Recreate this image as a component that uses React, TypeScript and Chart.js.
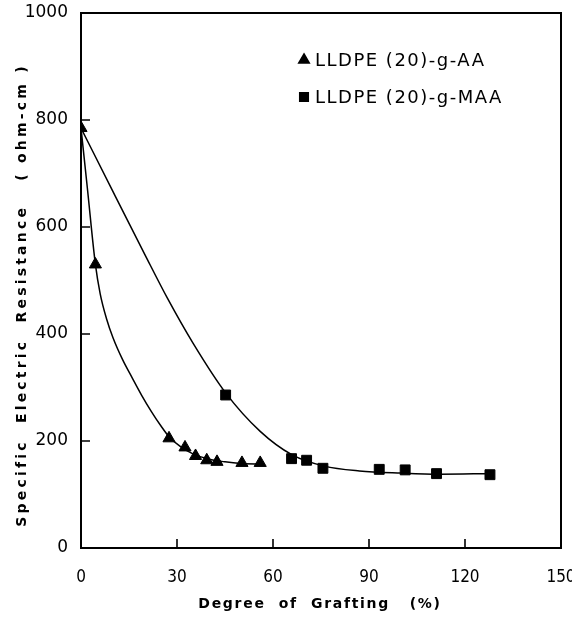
import React, { useEffect, useRef } from "react";
import { Chart, registerables } from "chart.js";
import { drawPoint } from "chart.js/helpers";

Chart.register(...registerables);

// Markers
const aaX = [0, 4.5, 27.5, 32.5, 35.8, 39.3, 42.5, 50.3, 56];
const aaY = [785, 530, 205, 188, 172, 164, 161, 159, 159];
const maaX = [45.2, 65.8, 70.5, 75.6, 93.2, 101.3, 111.1, 127.8];
const maaY = [286, 167, 164, 149, 147, 146, 139, 137];

// Hand-drawn fitted curves
const aaCurveX = [0, 2, 4.5, 6, 8, 10, 13, 16, 19, 22, 25, 27.5, 31, 35, 40, 45, 50, 57];
const aaCurveY = [785, 672, 530, 475, 428, 393, 352, 318, 285, 255, 228, 208, 190, 176, 166, 161, 158, 157];
const maaCurveX = [0, 10, 20, 27, 35, 45.2, 56, 66, 76, 87, 100, 112, 128];
const maaCurveY = [785, 666, 548, 467, 383, 290, 218, 174, 153, 144, 140, 138, 139];

const xTicks = [0, 30, 60, 90, 120, 150];
const yTicks = [0, 200, 400, 600, 800, 1000];

const legendLabels = ["LLDPE (20)-g-AA", "LLDPE (20)-g-MAA"];
const xTitle = "Degree  of  Grafting   (%)";
const yTitle = "Specific  Electric  Resistance   ( ohm-cm )";

const FONT = "'DejaVu Sans', sans-serif";
const FONT_C = "'DejaVu Sans Condensed', 'DejaVu Sans', sans-serif";

const pts = (xs: number[], ys: number[]) => xs.map((x, i) => ({ x, y: ys[i] }));

const framePlugin = {
  id: "frame",
  afterDraw(chart: any) {
    const { ctx, chartArea: a, scales } = chart;
    ctx.save();
    ctx.strokeStyle = "#000";
    ctx.lineWidth = 2;
    ctx.strokeRect(a.left, a.top, a.right - a.left, a.bottom - a.top);
    ctx.lineWidth = 1.6;
    ctx.beginPath();
    for (const v of yTicks) {
      const y = scales.y.getPixelForValue(v);
      ctx.moveTo(a.left, y);
      ctx.lineTo(a.left + 9, y);
    }
    for (const v of xTicks) {
      const x = scales.x.getPixelForValue(v);
      ctx.moveTo(x, a.bottom);
      ctx.lineTo(x, a.bottom - 9);
    }
    ctx.stroke();

    // axis titles
    ctx.fillStyle = "#000";
    ctx.font = `bold 14px ${FONT}`;
    (ctx as any).letterSpacing = "1.7px";
    ctx.textAlign = "center";
    ctx.textBaseline = "middle";
    ctx.fillText(xTitle, 320, 604);
    ctx.save();
    ctx.translate(22, 295);
    ctx.rotate(-Math.PI / 2);
    (ctx as any).letterSpacing = "3.2px";
    ctx.fillText(yTitle, 0, 0);
    ctx.restore();

    // legend
    (ctx as any).letterSpacing = "1.5px";
    ctx.font = `18px ${FONT}`;
    ctx.textAlign = "left";
    const styles = ["triangle", "rect"];
    const rows = [60, 97];
    for (let i = 0; i < 2; i++) {
      drawPoint(ctx, { pointStyle: styles[i], radius: 6, borderWidth: 1 } as any, 304, rows[i]);
      ctx.fill();
      ctx.fillText(legendLabels[i], 315, rows[i] + 1);
    }
    ctx.restore();
  },
};

export default function App() {
  const ref = useRef<HTMLCanvasElement>(null);
  useEffect(() => {
    if (!ref.current) return;
    const chart = new Chart(ref.current, {
      type: "scatter",
      data: {
        datasets: [
          {
            type: "line",
            data: pts(aaCurveX, aaCurveY),
            borderColor: "#000",
            borderWidth: 1.5,
            pointRadius: 0,
            cubicInterpolationMode: "monotone",
            showLine: true,
            fill: false,
          } as any,
          {
            type: "line",
            data: pts(maaCurveX, maaCurveY),
            borderColor: "#000",
            borderWidth: 1.5,
            pointRadius: 0,
            cubicInterpolationMode: "monotone",
            showLine: true,
            fill: false,
          } as any,
          {
            label: legendLabels[0],
            data: pts(aaX, aaY),
            pointStyle: "triangle",
            pointRadius: 7,
            backgroundColor: "#000",
            borderColor: "#000",
            borderWidth: 1,
          },
          {
            label: legendLabels[1],
            data: pts(maaX, maaY),
            pointStyle: "rect",
            pointRadius: 7,
            backgroundColor: "#000",
            borderColor: "#000",
            borderWidth: 1,
          },
        ],
      },
      options: {
        animation: false,
        responsive: false,
        devicePixelRatio: 1,
        layout: { padding: { top: 13, right: 11, left: 0, bottom: 0 } },
        plugins: { legend: { display: false }, tooltip: { enabled: false } },
        scales: {
          x: {
            type: "linear",
            min: 0,
            max: 150,
            afterBuildTicks: (s: any) => {
              s.ticks = xTicks.map((v) => ({ value: v }));
            },
            afterFit: (s: any) => {
              s.height = 71;
              s.paddingLeft = 0;
              s.paddingRight = 0;
            },
            grid: { display: false },
            border: { display: false },
            ticks: {
              color: "#000",
              font: { family: FONT_C, size: 17 },
              padding: 11,
              maxRotation: 0,
              callback: (v: any) => String(v),
            },
          },
          y: {
            type: "linear",
            min: 0,
            max: 1000,
            afterBuildTicks: (s: any) => {
              s.ticks = yTicks.map((v) => ({ value: v }));
            },
            afterFit: (s: any) => {
              s.width = 81;
              s.paddingTop = 0;
              s.paddingBottom = 0;
            },
            grid: { display: false },
            border: { display: false },
            ticks: {
              color: "#000",
              font: { family: FONT, size: 17 },
              padding: 5,
              callback: (v: any) => String(v),
            },
          },
        },
      },
      plugins: [framePlugin],
    });
    return () => chart.destroy();
  }, []);
  return (
    <div style={{ position: "fixed", left: 0, top: 0, width: 572, height: 619, background: "#fff" }}>
      <canvas ref={ref} width={572} height={619} style={{ width: 572, height: 619 }} />
    </div>
  );
}
